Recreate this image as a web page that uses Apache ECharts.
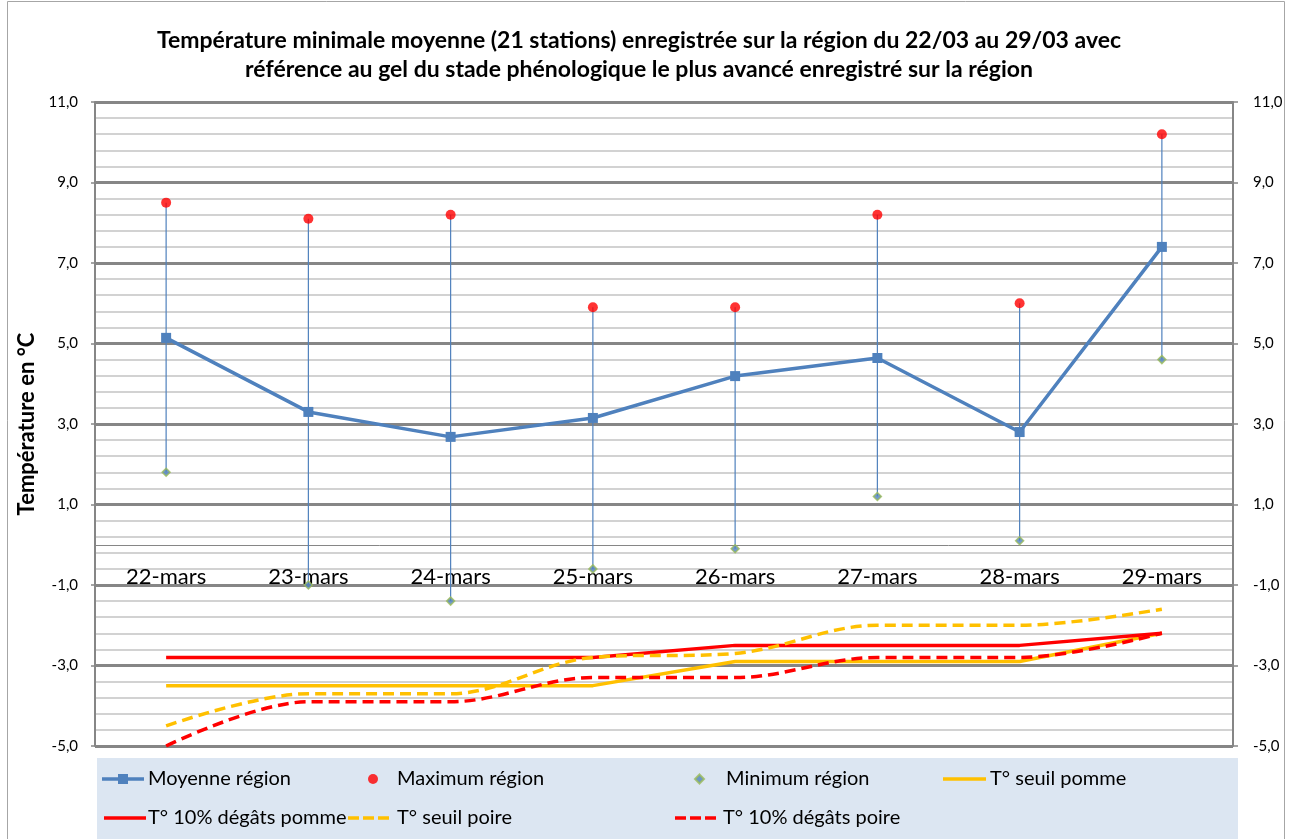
<!DOCTYPE html>
<html>
<head>
<meta charset="utf-8">
<script src="https://cdn.jsdelivr.net/npm/echarts@6/dist/echarts.min.js"></script>
<style>
  html, body { margin: 0; padding: 0; background: #ffffff; }
  #chart { width: 1290px; height: 839px; }
</style>
</head>
<body>
<div id="chart"></div>
<script>
// Daily categories
const days = ['22-mars', '23-mars', '24-mars', '25-mars', '26-mars', '27-mars', '28-mars', '29-mars'];

// Regional minimum temperatures (°C)
const moyenne = [5.14, 3.30, 2.68, 3.15, 4.19, 4.64, 2.80, 7.40];
const maximum = [8.5, 8.1, 8.2, 5.9, 5.9, 8.2, 6.0, 10.2];
const minimum = [1.8, -1.0, -1.4, -0.6, -0.1, 1.2, 0.1, 4.6];

// Frost reference thresholds (°C)
const seuilPomme = [-3.5, -3.5, -3.5, -3.5, -2.9, -2.9, -2.9, -2.2];
const degatsPomme = [-2.8, -2.8, -2.8, -2.8, -2.5, -2.5, -2.5, -2.2];
const seuilPoire = [-4.5, -3.7, -3.7, -2.8, -2.7, -2.0, -2.0, -1.6];
const degatsPoire = [-5.0, -3.9, -3.9, -3.3, -3.3, -2.8, -2.8, -2.2];

// Value axis range and step
const yMin = -5;
const yMax = 11;
const yStep = 2;

const FONT = 'Lato, "Open Sans", sans-serif';
const BLUE = '#4F81BD';
const RED = '#FF0000';
const AMBER = '#FFC000';
const GREEN = '#9BBB59';

// Legend glyphs: dashed stroke, and a thick line carrying a square marker
const DASH_ICON = 'path://M0,0H11V3.5H0Z M15,0H26V3.5H15Z M30,0H41V3.5H30Z';
const LINE_SQUARE_ICON = 'path://M0,4.2H42V7.8H0Z M16,1H26V11H16Z';

const fmt = v => v.toFixed(1).replace('.', ',');

// Plot area
const GRID = { left: 95, right: 57, top: 102, bottom: 93 };
const CHART_H = 839;
const plotH = CHART_H - GRID.top - GRID.bottom;
// the category axis crosses the value axis at 0
const zeroOffset = -plotH * (0 - yMin) / (yMax - yMin);

const chart = echarts.init(document.getElementById('chart'), null, { renderer: 'canvas' });

// One legend block per entry so the two rows line up in fixed columns
const ROW1 = 779;
const ROW2 = 818;
const LEGEND_TEXT_H = 20;
function legendAt(name, left, rowY, w, h, icon, textPad) {
  const item = { name: name };
  if (icon) item.icon = icon;
  return {
    data: [item],
    left: left,
    top: rowY - Math.max(h, LEGEND_TEXT_H) / 2,
    padding: 0,
    orient: 'horizontal',
    itemWidth: w,
    itemHeight: h,
    itemGap: 0,
    selectedMode: false,
    textStyle: { fontFamily: FONT, fontSize: 20, color: '#000', padding: [0, 0, 0, textPad] }
  };
}

const option = {
  animation: false,
  backgroundColor: '#ffffff',
  title: {
    text: 'Température minimale moyenne (21 stations) enregistrée sur la région du 22/03 au 29/03 avec\nréférence au gel du stade phénologique le plus avancé enregistré sur la région',
    left: 634,
    top: 21,
    textAlign: 'center',
    textStyle: {
      fontFamily: FONT,
      fontSize: 23,
      fontWeight: 'bold',
      color: '#000',
      lineHeight: 29
    }
  },
  graphic: [
    {
      type: 'rect',
      shape: { x: 7.5, y: 1.5, width: 1277, height: 860 },
      style: { fill: null, stroke: '#A6A6A6', lineWidth: 1 },
      silent: true, z: -10
    },
    {
      type: 'rect',
      shape: { x: 97, y: 758, width: 1141, height: 81 },
      style: { fill: '#DCE6F2' },
      silent: true, z: -5
    }
  ],
  grid: { left: GRID.left, right: GRID.right, top: GRID.top, bottom: GRID.bottom, containLabel: false },
  xAxis: {
    type: 'category',
    data: days,
    boundaryGap: true,
    position: 'bottom',
    offset: zeroOffset,
    axisLine: { show: true, onZero: false, lineStyle: { color: '#868686', width: 1 } },
    axisTick: { show: false },
    axisLabel: { fontFamily: FONT, fontSize: 22, color: '#000', margin: 21 },
    splitLine: { show: false }
  },
  yAxis: [
    {
      type: 'value',
      position: 'left',
      min: yMin, max: yMax, interval: yStep,
      name: 'Température en °C',
      nameLocation: 'middle',
      nameGap: 36,
      nameTextStyle: { fontFamily: FONT, fontSize: 22, fontWeight: 'bold', color: '#000' },
      axisLine: { show: true, onZero: false, lineStyle: { color: '#868686', width: 2 } },
      axisTick: { show: true, length: 4, lineStyle: { color: '#868686', width: 1.5 } },
      axisLabel: { fontFamily: FONT, fontSize: 15, color: '#000', margin: 17, formatter: fmt },
      splitLine: { show: true, lineStyle: { color: '#868686', width: 3 } },
      minorTick: { show: false, splitNumber: 5 },
      minorSplitLine: { show: true, lineStyle: { color: '#C3C3C3', width: 1.5 } }
    },
    {
      type: 'value',
      position: 'right',
      min: yMin, max: yMax, interval: yStep,
      axisLine: { show: true, onZero: false, lineStyle: { color: '#868686', width: 2 } },
      axisTick: { show: true, length: 5, lineStyle: { color: '#868686', width: 1.5 } },
      axisLabel: { fontFamily: FONT, fontSize: 15, color: '#000', margin: 20, formatter: fmt },
      splitLine: { show: false }
    }
  ],
  legend: [
    legendAt('Moyenne région', 102, ROW1, 42, 12, LINE_SQUARE_ICON, -1),
    legendAt('Maximum région', 368, ROW1, 10, 10, 'circle', 14),
    legendAt('Minimum région', 694, ROW1, 9, 9, 'diamond', 17),
    legendAt('T° seuil pomme', 943, ROW1, 43, 3.5, 'rect', -1),
    legendAt('T° 10% dégâts pomme', 104, ROW2, 42, 3.5, 'rect', -3),
    legendAt('T° seuil poire', 348, ROW2, 41, 3.5, DASH_ICON, 3),
    legendAt('T° 10% dégâts poire', 675, ROW2, 41, 3.5, DASH_ICON, 2)
  ],
  series: [
    {
      // vertical span from daily minimum to daily maximum
      name: 'Amplitude',
      type: 'custom',
      data: days.map((d, i) => [i, minimum[i], maximum[i]]),
      encode: { x: 0, y: [1, 2] },
      silent: true,
      z: 1,
      renderItem: function (params, api) {
        const lo = api.coord([api.value(0), api.value(1)]);
        const hi = api.coord([api.value(0), api.value(2)]);
        return {
          type: 'line',
          shape: { x1: lo[0], y1: lo[1], x2: hi[0], y2: hi[1] },
          style: { stroke: BLUE, lineWidth: 1.2 }
        };
      }
    },
    {
      name: 'T° seuil pomme',
      type: 'line',
      data: seuilPomme,
      symbol: 'none',
      lineStyle: { color: AMBER, width: 3.5 },
      itemStyle: { color: AMBER },
      z: 2
    },
    {
      name: 'T° 10% dégâts pomme',
      type: 'line',
      data: degatsPomme,
      symbol: 'none',
      lineStyle: { color: RED, width: 3.5 },
      itemStyle: { color: RED },
      z: 2
    },
    {
      name: 'T° seuil poire',
      type: 'line',
      data: seuilPoire,
      symbol: 'none',
      smooth: 0.35,
      lineStyle: { color: AMBER, width: 3.5, type: [11, 6] },
      itemStyle: { color: AMBER },
      z: 2
    },
    {
      name: 'T° 10% dégâts poire',
      type: 'line',
      data: degatsPoire,
      symbol: 'none',
      smooth: 0.35,
      lineStyle: { color: RED, width: 3.5, type: [11, 6] },
      itemStyle: { color: RED },
      z: 2
    },
    {
      name: 'Moyenne région',
      type: 'line',
      data: moyenne,
      symbol: 'rect',
      symbolSize: 10,
      lineStyle: { color: BLUE, width: 3.5 },
      itemStyle: { color: BLUE },
      z: 4
    },
    {
      name: 'Maximum région',
      type: 'scatter',
      data: maximum,
      symbol: 'circle',
      symbolSize: 10,
      itemStyle: { color: RED },
      z: 5
    },
    {
      name: 'Minimum région',
      type: 'scatter',
      data: minimum,
      symbol: 'diamond',
      symbolSize: 8,
      itemStyle: { color: BLUE, borderColor: GREEN, borderWidth: 1.5 },
      z: 5
    }
  ]
};

chart.setOption(option);
</script>
</body>
</html>
